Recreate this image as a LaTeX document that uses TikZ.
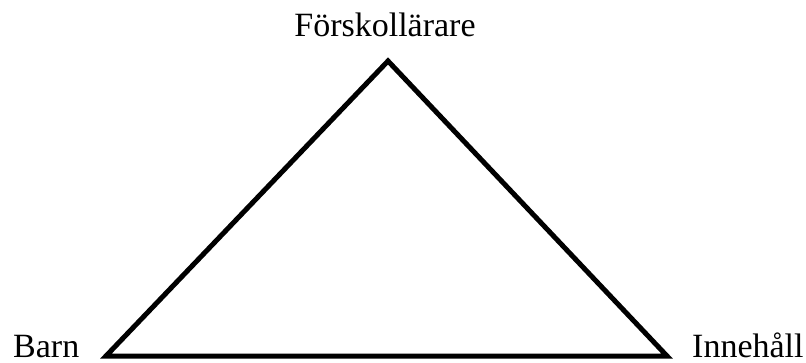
\documentclass[tikz,border=0pt]{standalone}
\usepackage{fontspec}
\setmainfont{Liberation Serif}
\begin{document}
\begin{tikzpicture}[x=1pt,y=-1pt,
  lbl/.style={inner sep=0pt,font=\fontsize{34}{40}\selectfont},
  edge/.style={line width=5pt,line join=miter}]
\useasboundingbox (0,0) rectangle (806,363);
\coordinate (top) at (388,61);
\coordinate (left) at (106,356);
\coordinate (right) at (667,356);
\node[lbl,anchor=base] (f) at (385,37) {Förskollärare};
\node[lbl,anchor=base west] (b) at (13,357) {Barn};
\node[lbl,anchor=base west] (i) at (692,357) {Innehåll};
\draw[edge] (left) -- (top) -- (right) -- cycle;
\end{tikzpicture}
\end{document}
